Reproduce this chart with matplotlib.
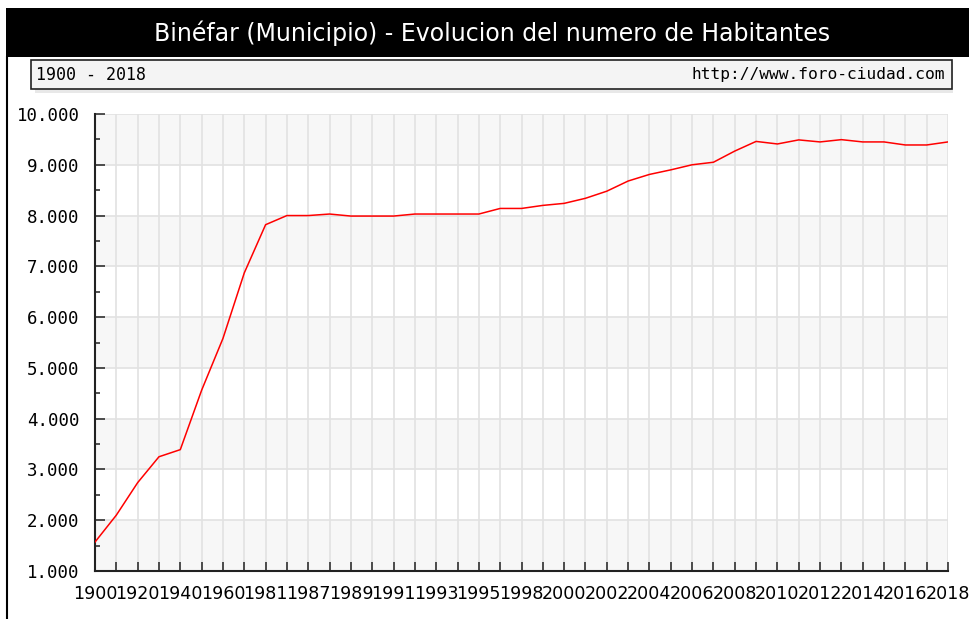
import matplotlib.pyplot as plt
from matplotlib.patches import Rectangle
from matplotlib.lines import Line2D

# datos
years = ["1900", "1910", "1920", "1930", "1940", "1950", "1960", "1970",
         "1981", "1986", "1987", "1988", "1989", "1990", "1991", "1992",
         "1993", "1994", "1995", "1996", "1998", "1999", "2000", "2001",
         "2002", "2003", "2004", "2005", "2006", "2007", "2008", "2009",
         "2010", "2011", "2012", "2013", "2014", "2015", "2016", "2017",
         "2018"]
habitantes = [1570, 2100, 2740, 3250, 3390, 4560, 5580, 6870,
              7820, 8000, 8000, 8030, 7990, 7990, 7990, 8030,
              8030, 8030, 8030, 8140, 8140, 8200, 8240, 8340,
              8480, 8680, 8810, 8900, 9000, 9050, 9270, 9460,
              9410, 9490, 9450, 9495, 9450, 9450, 9390, 9390,
              9450]
y_ticks = [1000, 2000, 3000, 4000, 5000, 6000, 7000, 8000, 9000, 10000]
y_labels = ["1.000", "2.000", "3.000", "4.000", "5.000",
            "6.000", "7.000", "8.000", "9.000", "10.000"]
title = "Binéfar (Municipio) - Evolucion del numero de Habitantes"
periodo = "1900 - 2018"
web = "http://www.foro-ciudad.com"

W, H = 969, 619
fig = plt.figure(figsize=(W / 100, H / 100), dpi=100)


def fx(px):
    return px / W


def fy(py):
    return 1 - py / H


# banda negra del titulo y borde izquierdo
fig.patches.append(Rectangle((fx(6), fy(57)), fx(W - 6), fy(8) - fy(57),
                             transform=fig.transFigure, facecolor="black",
                             edgecolor="none"))
fig.lines.append(Line2D([fx(7), fx(7)], [fy(57), 0], transform=fig.transFigure,
                        color="black", linewidth=1.5))
fig.text(fx(492), fy(33), title, color="white", fontsize=17,
         family="DejaVu Sans", ha="center", va="center")

# caja con sombra
fig.patches.append(Rectangle((fx(35), fy(93)), fx(918), fy(62) - fy(93),
                             transform=fig.transFigure, facecolor="#e8e8e8",
                             edgecolor="none"))
fig.patches.append(Rectangle((fx(31), fy(89)), fx(921), fy(60) - fy(89),
                             transform=fig.transFigure, facecolor="#f4f4f4",
                             edgecolor="#222222", linewidth=1.2))
fig.text(fx(36), fy(75), periodo, fontsize=12, family="DejaVu Sans Mono",
         ha="left", va="center")
fig.text(fx(945), fy(75), web, fontsize=11.7, family="DejaVu Sans Mono",
         ha="right", va="center")

ax = fig.add_axes([fx(95), fy(571), fx(948) - fx(95), fy(114) - fy(571)])
x = list(range(len(years)))

# bandas alternas
for lo in range(1000, 10000, 2000):
    ax.axhspan(lo, lo + 1000, color="#f7f7f7", zorder=0, linewidth=0)

ax.plot(x, habitantes, color="#ff0000", linewidth=1.1, zorder=3)

ax.set_xlim(0, len(years) - 1)
ax.set_ylim(1000, 10000)
ax.set_xticks(x)
ax.set_xticklabels([y if i % 2 == 0 else "" for i, y in enumerate(years)],
                   fontsize=12.6, family="DejaVu Sans")
ax.set_yticks(y_ticks)
ax.set_yticklabels(y_labels, fontsize=12.5, family="DejaVu Sans Mono")
ax.set_yticks(range(1500, 10000, 1000), minor=True)

ax.grid(True, color="#e2e2e2", linewidth=1.2, zorder=1)
ax.set_axisbelow(True)
ax.tick_params(axis="x", direction="in", length=6.5, width=1.1,
               color="#222222", pad=10)
ax.tick_params(axis="y", which="major", direction="in", length=7.2,
               width=1.1, color="#222222", pad=11)
ax.tick_params(axis="y", which="minor", direction="in", length=3.6,
               width=1.1, color="#222222")
for s in ["top", "right"]:
    ax.spines[s].set_visible(False)
for s in ["left", "bottom"]:
    ax.spines[s].set_color("#222222")
    ax.spines[s].set_linewidth(1.5)
ax.set_facecolor("white")

fig.savefig("out.png", dpi=100)
